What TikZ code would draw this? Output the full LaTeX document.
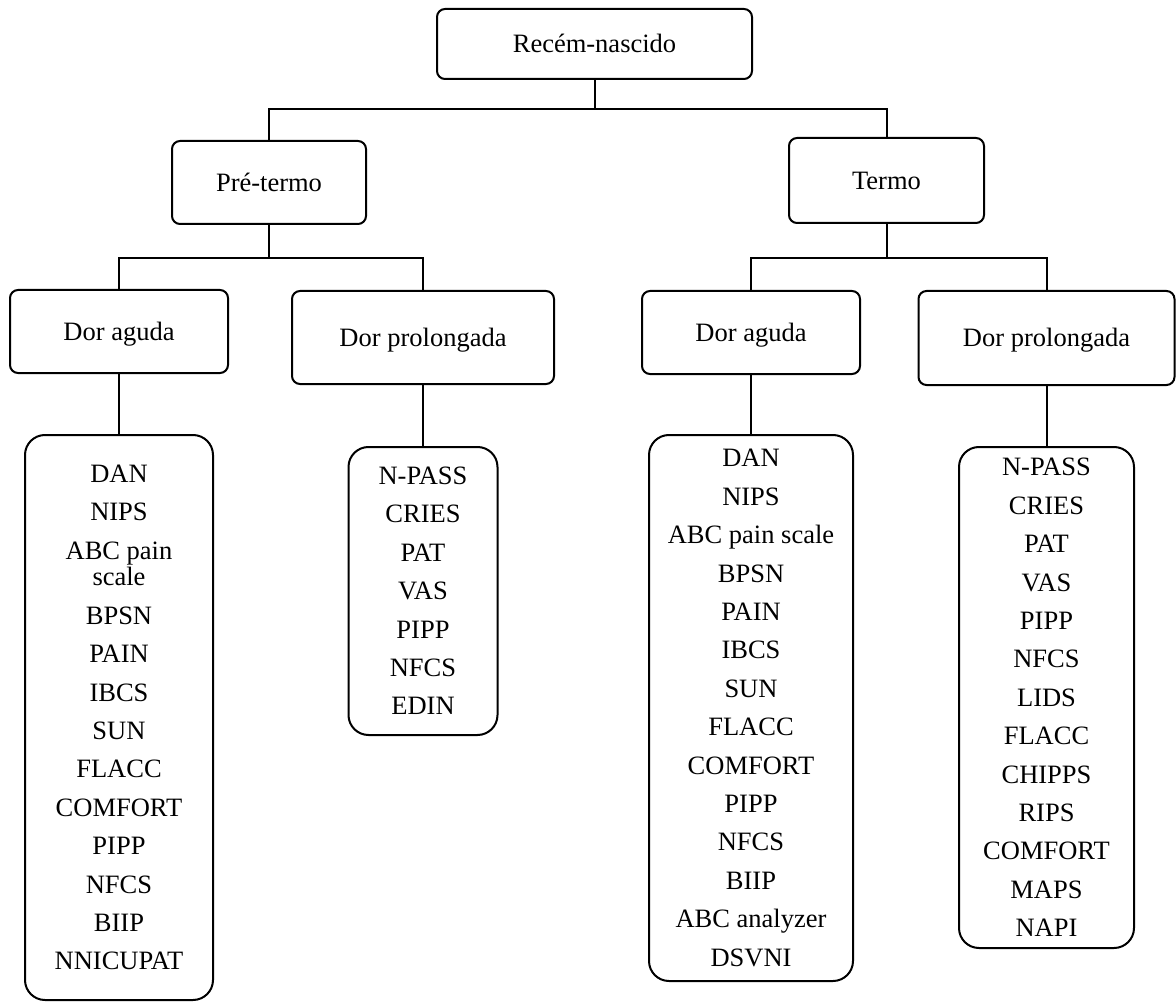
\documentclass[tikz,border=0pt]{standalone}
\usepackage{fontspec}
\setmainfont{Liberation Serif}
\begin{document}
\begin{tikzpicture}[x=1pt,y=-1pt,line width=2pt,
  hdr/.style={draw,rounded corners=8pt,inner sep=0pt,text height=17.5pt,text depth=0pt,font=\fontsize{26.5}{30}\selectfont},
  lst/.style={draw,rounded corners=20pt,inner sep=0pt,align=center,font=\fontsize{26.5}{38.4}\selectfont},
  wire/.style={line width=2pt}]
\useasboundingbox (0,0) rectangle (1176,1003);
% headers
\node[hdr,minimum width=315pt,minimum height=70pt] (root) at (594.5,44) {Recém-nascido};
\node[hdr,minimum width=194pt,minimum height=83pt] (pre) at (269,182.5) {Pré-termo};
\node[hdr,minimum width=195pt,minimum height=85pt] (termo) at (886.5,180.5) {Termo};
\node[hdr,minimum width=218pt,minimum height=83pt] (daL) at (119,331.5) {Dor aguda};
\node[hdr,minimum width=262pt,minimum height=93pt] (dpL) at (423,337.5) {Dor prolongada};
\node[hdr,minimum width=218pt,minimum height=83pt] (daR) at (751,332.5) {Dor aguda};
\node[hdr,minimum width=256pt,minimum height=94pt] (dpR) at (1046.5,338) {Dor prolongada};
% lists
\node[lst,minimum width=188pt,minimum height=565pt] (L1) at (119,717.5)
 {DAN\\NIPS\\ABC pain\\[-11.6pt]scale\\BPSN\\PAIN\\IBCS\\SUN\\FLACC\\COMFORT\\PIPP\\NFCS\\BIIP\\NNICUPAT};
\node[lst,minimum width=149pt,minimum height=288pt] (L2) at (423,591)
 {N-PASS\\CRIES\\PAT\\VAS\\PIPP\\NFCS\\EDIN};
\node[lst,minimum width=204pt,minimum height=546pt] (L3) at (751,708)
 {DAN\\NIPS\\ABC pain scale\\BPSN\\PAIN\\IBCS\\SUN\\FLACC\\COMFORT\\PIPP\\NFCS\\BIIP\\ABC analyzer\\DSVNI};
\node[lst,minimum width=175pt,minimum height=501pt] (L4) at (1046.5,697.5)
 {N-PASS\\CRIES\\PAT\\VAS\\PIPP\\NFCS\\LIDS\\FLACC\\CHIPPS\\RIPS\\COMFORT\\MAPS\\NAPI};
% connectors
\coordinate (y1) at (0,109);
\coordinate (y2) at (0,258);
\draw[wire] (root.south) -- (root.south |- y1);
\draw[wire] (pre.north) |- (y1 -| termo.north) -- (termo.north);
\draw[wire] (pre.south) -- (pre.south |- y2);
\draw[wire] (daL.north) |- (y2 -| dpL.north) -- (dpL.north);
\draw[wire] (termo.south) -- (termo.south |- y2);
\draw[wire] (daR.north) |- (y2 -| dpR.north) -- (dpR.north);
\draw[wire] (daL.south) -- (L1.north);
\draw[wire] (dpL.south) -- (L2.north);
\draw[wire] (daR.south) -- (L3.north);
\draw[wire] (dpR.south) -- (L4.north);
\end{tikzpicture}
\end{document}
